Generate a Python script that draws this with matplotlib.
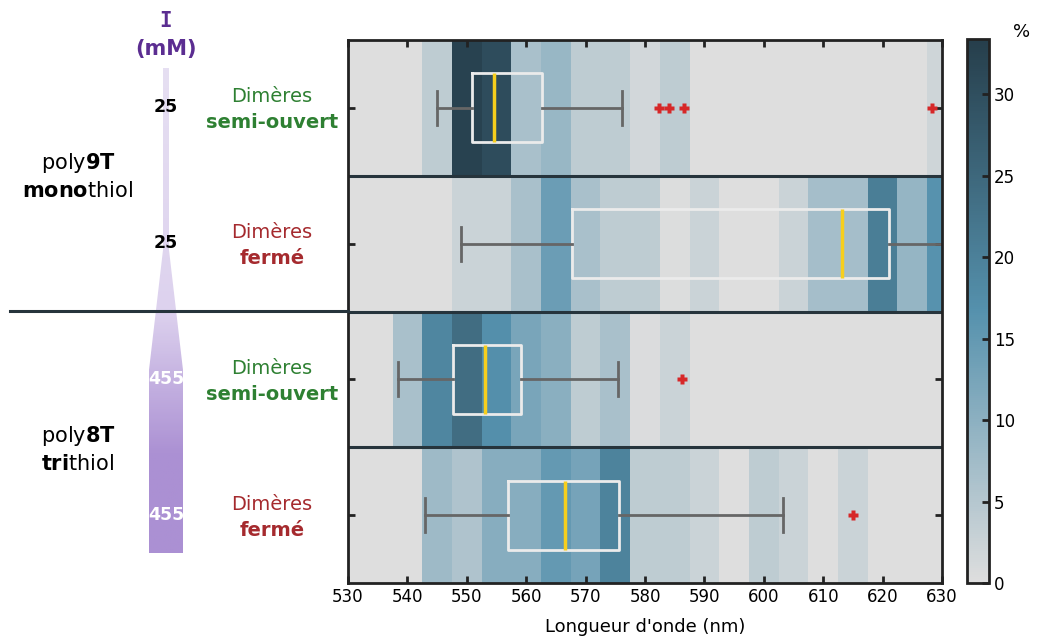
import numpy as np
import matplotlib
matplotlib.use('Agg')
import matplotlib.pyplot as plt
from matplotlib.colors import LinearSegmentedColormap
from matplotlib.patches import Polygon
from matplotlib.lines import Line2D

plt.rcParams['font.family'] = ['DejaVu Sans']
plt.rcParams['mathtext.fontset'] = 'dejavusans'

# ----- data : % of particles per 5 nm bin (bins centred on 530 ... 630 nm)
wavelength = np.arange(530, 631, 5)
pct_9T_semi = [0, 0, 0, 4, 32.5, 30.5, 6.5, 8.5, 4, 4, 1.5, 4, 0, 0, 0, 0, 0, 0, 0, 0, 2]
pct_9T_ferme = [0, 0, 0, 0, 2.5, 2.5, 6.5, 14, 6.5, 4, 4, 0.3, 2.5, 0, 0, 2.5, 7, 7, 20.5, 9, 16.5]
pct_8T_semi = [0, 0, 6.5, 19, 24, 17, 12.3, 10.2, 4, 6.5, 0.5, 2.5, 0, 0, 0, 0, 0, 0, 0, 0, 0]
pct_8T_ferme = [0, 0, 0, 7.9, 5.8, 10.6, 10.6, 15, 12.7, 19.5, 4, 4, 2.5, 0, 4, 2.5, 0, 2.5, 0, 0, 0]

# box plot statistics (nm) : q1, median, q3, whisker low, whisker high, outliers
q1 = [550.9, 567.7, 547.6, 557.0]
med = [554.6, 613.1, 553.1, 566.6]
q3 = [562.7, 621.0, 559.2, 575.7]
whis_lo = [544.9, 549.1, 538.5, 542.9]
whis_hi = [576.2, 633.0, 575.5, 603.2]
outliers = [[582.4, 584.0, 586.5, 628.3], [], [586.2], [615.0]]

row_type = ['semi-ouvert', 'fermé', 'semi-ouvert', 'fermé']
conc_labels = ['25', '25', '455', '455']
polymers = [('poly', '9T', 'mono', 'thiol'), ('poly', '8T', 'tri', 'thiol')]

W, H = 1039, 637
fig = plt.figure(figsize=(W / 100, H / 100), dpi=100)

def fx(px):
    return px / W

def fy(py):
    return 1 - py / H

# ----- heat map + box plots
ax = fig.add_axes([fx(348), fy(583), fx(942) - fx(348), fy(40) - fy(583)])
cmap = LinearSegmentedColormap.from_list('bleu', [(0, '#dedede'), (0.5, '#5591ad'), (1, '#263e4b')])
table = np.array([pct_9T_semi, pct_9T_ferme, pct_8T_semi, pct_8T_ferme])
xedges = np.append(wavelength - 2.5, wavelength[-1] + 2.5)
yedges = np.arange(-0.5, 4, 1)
mesh = ax.pcolormesh(xedges, yedges, table, cmap=cmap, vmin=0, vmax=33.4)

stats = []
for i in range(4):
    stats.append(dict(q1=q1[i], med=med[i], q3=q3[i], whislo=whis_lo[i],
                      whishi=whis_hi[i], fliers=outliers[i]))
ax.bxp(stats, positions=range(4), vert=False, widths=0.51, capwidths=0.25,
       boxprops=dict(color='#ebebeb', lw=2),
       medianprops=dict(color='#f7cf1d', lw=2.5),
       whiskerprops=dict(color='#666666', lw=2),
       capprops=dict(color='#666666', lw=2),
       flierprops=dict(marker='P', markerfacecolor='#d62728', markeredgecolor='none', markersize=7))

for yb in [0.5, 1.5, 2.5]:
    ax.axhline(yb, color='#26343c', lw=2.2)

ax.set_xlim(530, 630)
ax.set_ylim(3.5, -0.5)
ax.set_xticks(np.arange(530, 631, 10))
ax.set_yticks(range(4))
ax.set_yticklabels([])
ax.tick_params(direction='in', top=True, right=True, length=5, width=2, labelsize=12, color='#222222')
for s in ax.spines.values():
    s.set_linewidth(2)
    s.set_color('#222222')
ax.set_xlabel("Longueur d'onde (nm)", fontsize=13, labelpad=9)

# ----- colour bar
cax = fig.add_axes([fx(967), fy(583), fx(989) - fx(967), fy(39) - fy(583)])
cb = fig.colorbar(mesh, cax=cax, ticks=np.arange(0, 31, 5))
cb.outline.set_linewidth(2)
cb.outline.set_edgecolor('#222222')
cax.tick_params(direction='in', length=5, width=2, labelsize=12, color='#222222')
fig.text(fx(1022), fy(32), '%', fontsize=13, ha='center', va='center')

# ----- left part : labels and concentration wedge
lax = fig.add_axes([0, 0, fx(348), 1])
lax.set_xlim(0, 348)
lax.set_ylim(H, 0)
lax.axis('off')

wedge = Polygon([(163, 68), (169, 68), (169, 250), (183, 370), (183, 553),
                 (149, 553), (149, 370), (163, 250)], closed=True, fc='none', ec='none')
lax.add_patch(wedge)
grad_cmap = LinearSegmentedColormap.from_list('violet', [(0, '#e6dff2'), (0.5, '#ddd2ee'),
                                                       (0.8, '#ab90d3'), (1, '#ab90d3')])
grad = np.linspace(0, 1, 300).reshape(-1, 1)
im = lax.imshow(grad, cmap=grad_cmap, extent=(149, 183, 553, 68), aspect='auto')
im.set_clip_path(wedge)
lax.set_xlim(0, 348)
lax.set_ylim(H, 0)

purple = '#5b2d91'
lax.text(166, 21, 'I', color=purple, fontsize=15, fontweight='bold', family='DejaVu Sans Mono',
         ha='center', va='center')
lax.text(166, 49, '(mM)', color=purple, fontsize=15, fontweight='bold', ha='center', va='center')

row_y = [109, 245, 381, 517]
for i in range(4):
    col = 'black' if i < 2 else 'white'
    lax.text(166, row_y[i] - 2, conc_labels[i], color=col, fontsize=12.5, fontweight='bold',
             ha='center', va='center')
    tc = '#2e8032' if row_type[i] == 'semi-ouvert' else '#a52a2e'
    lax.text(272, row_y[i] - 13, 'Dimères', color=tc, fontsize=14, ha='center', va='center')
    lax.text(272, row_y[i] + 13, row_type[i], color=tc, fontsize=14, fontweight='bold',
             ha='center', va='center')

poly_y = [177, 450]
for (a, b, d, e), yp in zip(polymers, poly_y):
    lax.text(78, yp - 14, a + r'$\mathbf{' + b + '}$', fontsize=15, ha='center', va='center')
    lax.text(78, yp + 14, r'$\mathbf{' + d + '}$' + e, fontsize=15, ha='center', va='center')

# separator between the two polymers
fig.add_artist(Line2D([fx(10), fx(348)], [fy(311), fy(311)], color='#26343c', lw=2.2))

plt.savefig('out.png', dpi=100)
